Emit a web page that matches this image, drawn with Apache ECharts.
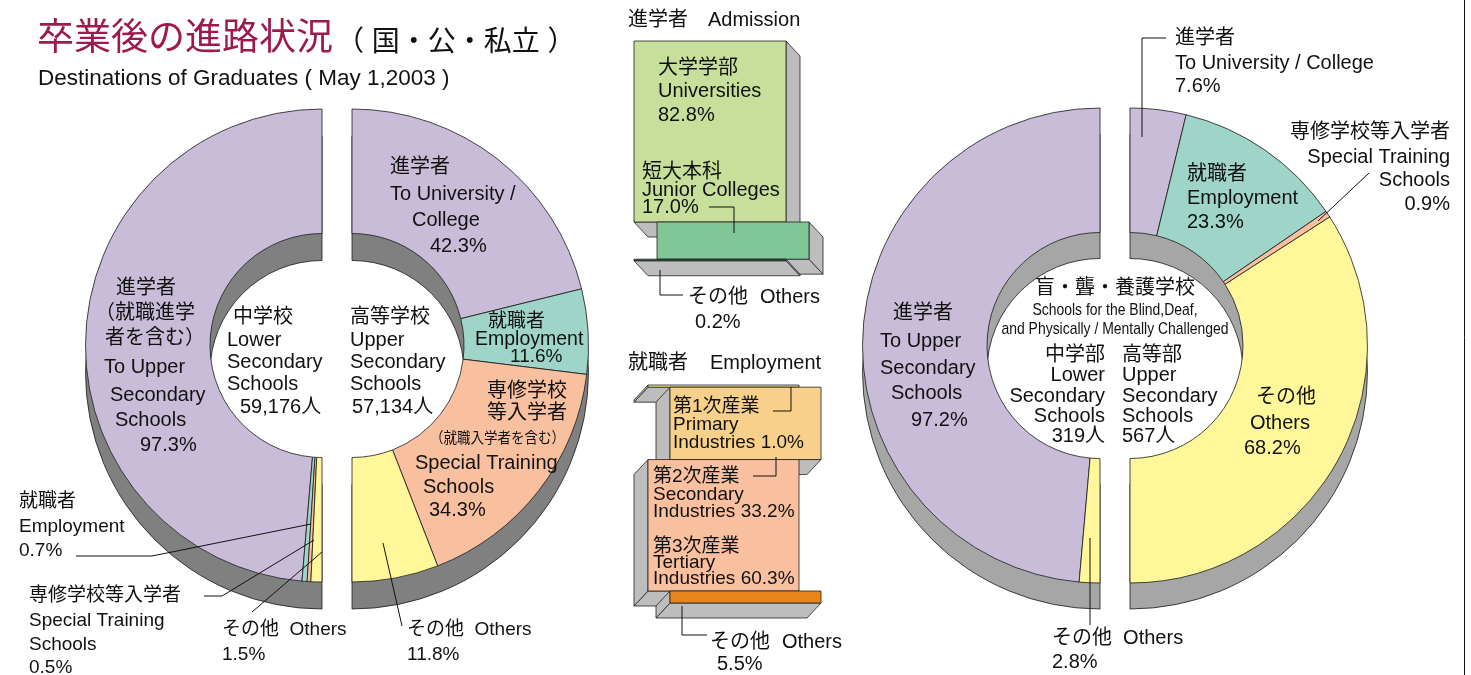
<!DOCTYPE html>
<html>
<head>
<meta charset="utf-8">
<script src="https://cdn.jsdelivr.net/npm/echarts@6/dist/echarts.min.js"></script>
<style>
html,body{margin:0;padding:0;background:#fff;}
#chart{width:1471px;height:675px;}
</style>
</head>
<body>
<div id="chart"></div>
<script>
// ---------------- DATA ----------------
const destCategories = ['進学者', '就職者', '専修学校等入学者', 'その他'];
const lowerSecValues = [97.3, 0.7, 0.5, 1.5];          // 中学校
const upperSecValues = [42.3, 11.6, 34.3, 11.8];       // 高等学校
const specialLowerCategories = ['進学者', 'その他'];
const specialLowerValues = [97.2, 2.8];                // 盲・聾・養護学校 中学部
const specialUpperValues = [7.6, 23.3, 0.9, 68.2];     // 盲・聾・養護学校 高等部
const schoolTotals = ['59,176', '57,134', '319', '567'];
const admissionCategories = ['大学学部', '短大本科', 'その他'];
const admissionValues = [82.8, 17.0, 0.2];
const employmentCategories = ['第1次産業', '第2次産業', '第3次産業', 'その他'];
const employmentValues = [1.0, 33.2, 60.3, 5.5];

// ---------------- STYLE ----------------
const FONT = "'Liberation Sans','Noto Sans CJK JP',sans-serif";
const catColors = {'進学者':'#c9bcd9','就職者':'#9fd5c8','専修学校等入学者':'#f9c0a0','その他':'#fff799'};
const admissionColors = ['#c8df9b', '#80c697', '#1f5f33'];
const employmentColors = ['#f3ee86', '#f8d08a', '#f9c0a0', '#e8841c'];
const pct = v => v.toFixed(1) + '%';

function halfPie(values, cats, center, radius, clockwise, shadowColor) {
  const sum = values.reduce((a, b) => a + b, 0);
  const data = shadowColor
    ? [{name: 'shadow', value: sum, itemStyle: {color: shadowColor}}]
    : values.map((v, i) => ({name: cats[i], value: v, itemStyle: {color: catColors[cats[i]]}}));
  data.push({name: 'blank', value: sum, itemStyle: {color: 'rgba(0,0,0,0)', borderWidth: 0}});
  return {
    type: 'pie', center, radius, startAngle: 90, clockwise, silent: true, animation: false,
    label: {show: false}, labelLine: {show: false}, emphasis: {disabled: true},
    itemStyle: {borderColor: '#1a1a1a', borderWidth: 0.8}, data, z: shadowColor ? 2 : 3
  };
}

function boxSeries(idx, values, colors, cfg) {
  let cum = 0;
  const data = values.map((v, i) => { const s = cum; cum += v; return [s, cum, i]; });
  return {
    type: 'custom', coordinateSystem: 'cartesian2d', xAxisIndex: idx, yAxisIndex: idx,
    silent: true, animation: false, clip: false, encode: {y: [0, 1]}, data,
    renderItem: function (params, api) {
      const i = params.dataIndex;
      const a = api.coord([0, api.value(0)]);
      const b = api.coord([1, api.value(1)]);
      const off = (i % 2) * cfg.offset;
      const x0 = a[0] + off, x1 = b[0] + off, y0 = a[1];
      const y1 = Math.max(b[1], y0 + 1.6);
      const dx = cfg.dx, dy = cfg.dy;
      const face = {fill: '#bdbdbd', stroke: '#222', lineWidth: 0.8};
      const side = dx > 0
        ? [[x1, y0], [x1 + dx, y0 + dy], [x1 + dx, y1 + dy], [x1, y1]]
        : [[x0, y0], [x0 + dx, y0 + dy], [x0 + dx, y1 + dy], [x0, y1]];
      return {
        type: 'group', children: [
          {type: 'polygon', z2: i * 10, shape: {points: [[x0, y1], [x1, y1], [x1 + dx, y1 + dy], [x0 + dx, y1 + dy]]}, style: face},
          {type: 'polygon', z2: i * 10 + 1, shape: {points: side}, style: face},
          {type: 'rect', z2: i * 10 + 2, shape: {x: x0, y: y0, width: x1 - x0, height: y1 - y0},
            style: {fill: colors[i], stroke: '#222', lineWidth: 0.8}}
        ]
      };
    }
  };
}

// ---------------- TEXT HELPERS ----------------
function T(text, x, y, size, align, extra, color) {
  return Object.assign({
    type: 'text', x, y, silent: true, z: 100,
    style: {text, fill: color || '#111', font: size + 'px ' + FONT,
      align: align || 'left', textAlign: align || 'left', verticalAlign: 'middle', textVerticalAlign: 'middle'}
  }, extra || {});
}
function L(points) {
  return {type: 'polyline', silent: true, z: 99, shape: {points}, style: {stroke: '#111', lineWidth: 1, fill: null}};
}

const lv = lowerSecValues, uv = upperSecValues, sl = specialLowerValues, su = specialUpperValues;
const av = admissionValues, ev = employmentValues;

const texts = [
  // title
  T('卒業後の進路状況', 37, 40, 37, 'left', null, '#9c1a4c'),
  T('（ 国・公・私立 ）', 336, 43, 28),
  T('Destinations of Graduates ( May 1,2003 )', 38, 79, 22.5),

  // left donut — 高等学校 side
  T(destCategories[0], 390, 167, 20),
  T('To University /', 390, 194, 20),
  T('College', 412, 220, 20),
  T(pct(uv[0]), 430, 246, 20),
  T(destCategories[1], 488, 322, 19),
  T('Employment', 475, 340, 19.5),
  T(pct(uv[1]), 510, 357, 19),
  T('専修学校', 487, 391, 20),
  T('等入学者', 487, 413, 20),
  T('（就職入学者を含む）', 430, 439, 15, 'left', {scaleX: 0.9}),
  T('Special Training', 415, 463, 20),
  T('Schools', 423, 487, 20),
  T(pct(uv[2]), 429, 510, 20),
  // left donut — 中学校 side
  T(destCategories[0], 116, 288, 20),
  T('（就職進学', 95, 313, 20),
  T('者を含む）', 105, 338, 20),
  T('To Upper', 104, 367, 20),
  T('Secondary', 110, 395, 20),
  T('Schools', 115, 420, 20),
  T(pct(lv[0]), 140, 445, 20),
  // centre
  T('中学校', 233, 317, 20),
  T('Lower', 227, 340, 20),
  T('Secondary', 227, 362, 20),
  T('Schools', 227, 384, 20),
  T(schoolTotals[0] + '人', 240, 407, 20),
  T('高等学校', 350, 317, 20),
  T('Upper', 350, 340, 20),
  T('Secondary', 350, 362, 20),
  T('Schools', 350, 384, 20),
  T(schoolTotals[1] + '人', 352, 407, 20),
  // left donut outside labels
  T(destCategories[1], 19, 502, 19),
  T('Employment', 19, 527, 19),
  T(pct(lv[1]), 19, 551, 19),
  L([[76, 556], [152, 556], [311, 524]]),
  T(destCategories[2], 29, 596, 19),
  T('Special Training', 29, 621, 19),
  T('Schools', 29, 645, 19),
  T(pct(lv[2]), 29, 668, 19),
  L([[204, 596], [222, 596], [314, 540]]),
  T('その他  Others', 222, 630, 19),
  T(pct(lv[3]), 222, 655, 19),
  L([[252, 612], [322, 552]]),
  T('その他  Others', 407, 630, 19),
  T(pct(uv[3]), 407, 655, 19),
  L([[402, 626], [383, 543]]),

  // middle — admission
  T('進学者', 628, 20, 20),
  T('Admission', 708, 20, 20),
  T(admissionCategories[0], 658, 68, 20),
  T('Universities', 658, 91, 20),
  T(pct(av[0]), 658, 115, 20),
  T(admissionCategories[1], 642, 172, 20),
  T('Junior Colleges', 642, 190, 20),
  T(pct(av[1]), 642, 207, 20),
  L([[709, 207], [734, 207], [734, 233]]),
  T('その他', 688, 297, 20),
  T('Others', 760, 297, 20),
  T(pct(av[2]), 695, 322, 20),
  L([[660, 270], [660, 295], [683, 295]]),

  // middle — employment
  T('就職者', 628, 363, 20),
  T('Employment', 710, 363, 20),
  T(employmentCategories[0], 673, 407, 19),
  T('Primary', 673, 425, 19),
  T('Industries ' + pct(ev[0]), 673, 443, 19),
  L([[773, 411], [791, 411], [791, 387]]),
  T(employmentCategories[1], 653, 477, 19),
  T('Secondary', 653, 495, 19),
  T('Industries ' + pct(ev[1]), 653, 512, 19),
  L([[753, 476], [776, 476], [776, 457]]),
  T(employmentCategories[2], 653, 547, 19),
  T('Tertiary', 653, 563, 19),
  T('Industries ' + pct(ev[2]), 653, 579, 19),
  T('その他', 710, 642, 20),
  T('Others', 782, 642, 20),
  T(pct(ev[3]), 717, 664, 20),
  L([[682, 606], [682, 635], [707, 635]]),

  // right donut
  T(destCategories[0], 1175, 38, 20),
  T('To University / College', 1175, 63, 20),
  T(pct(su[0]), 1175, 86, 20),
  L([[1166, 38], [1142, 38], [1142, 137]]),
  T(destCategories[1], 1187, 174, 20),
  T('Employment', 1187, 198, 20),
  T(pct(su[1]), 1187, 222, 20),
  T(destCategories[2], 1450, 132, 20, 'right'),
  T('Special Training', 1450, 157, 20, 'right'),
  T('Schools', 1450, 180, 20, 'right'),
  T(pct(su[2]), 1450, 204, 20, 'right'),
  L([[1369, 173], [1318, 221]]),
  T('その他', 1256, 397, 20),
  T('Others', 1250, 423, 20),
  T(pct(su[3]), 1244, 448, 20),
  T(specialLowerCategories[0], 893, 313, 20),
  T('To Upper', 880, 341, 20),
  T('Secondary', 880, 368, 20),
  T('Schools', 891, 393, 20),
  T(pct(sl[0]), 911, 420, 20),
  T('盲・聾・養護学校', 1115, 288, 20, 'center'),
  T('Schools for the Blind,Deaf,', 1115, 310, 17, 'center', {scaleX: 0.82}),
  T('and Physically / Mentally Challenged', 1115, 329, 17, 'center', {scaleX: 0.82}),
  T('中学部', 1105, 355, 20, 'right'),
  T('Lower', 1105, 375, 20, 'right'),
  T('Secondary', 1105, 396, 20, 'right'),
  T('Schools', 1105, 416, 20, 'right'),
  T(schoolTotals[2] + '人', 1105, 436, 20, 'right'),
  T('高等部', 1122, 355, 20),
  T('Upper', 1122, 375, 20),
  T('Secondary', 1122, 396, 20),
  T('Schools', 1122, 416, 20),
  T(schoolTotals[3] + '人', 1122, 436, 20),
  T(specialLowerCategories[1] + '  Others', 1052, 638, 20),
  T(pct(sl[1]), 1052, 662, 20),
  L([[1090, 538], [1090, 625]]),

  // right frame line
  {type: 'line', silent: true, shape: {x1: 1464.5, y1: 0, x2: 1464.5, y2: 675}, style: {stroke: '#111', lineWidth: 1}}
];

const chart = echarts.init(document.getElementById('chart'), null, {renderer: 'canvas'});
chart.setOption({
  animation: false,
  backgroundColor: '#fff',
  grid: [
    {left: 634, top: 41, width: 152, height: 218.6},
    {left: 648, top: 385, width: 151, height: 218}
  ],
  xAxis: [
    {type: 'value', gridIndex: 0, min: 0, max: 1, show: false},
    {type: 'value', gridIndex: 1, min: 0, max: 1, show: false}
  ],
  yAxis: [
    {type: 'value', gridIndex: 0, min: 0, max: 100, inverse: true, show: false},
    {type: 'value', gridIndex: 1, min: 0, max: 100, inverse: true, show: false}
  ],
  series: [
    // left donut (中学校 / 高等学校)
    halfPie(lowerSecValues, destCategories, [322, 372.5], [112, 236.5], false, '#808080'),
    halfPie(upperSecValues, destCategories, [352, 372.5], [112, 236.5], true, '#808080'),
    halfPie(lowerSecValues, destCategories, [322, 345.5], [112, 236.5], false),
    halfPie(upperSecValues, destCategories, [352, 345.5], [112, 236.5], true),
    // right donut (盲・聾・養護学校)
    halfPie(specialLowerValues, specialLowerCategories, [1100, 371.5], [113, 237.5], false, '#a6a6a6'),
    halfPie(specialUpperValues, destCategories, [1130, 371.5], [113, 237.5], true, '#a6a6a6'),
    halfPie(specialLowerValues, specialLowerCategories, [1100, 345.5], [113, 237.5], false),
    halfPie(specialUpperValues, destCategories, [1130, 345.5], [113, 237.5], true),
    // middle 3D bars
    boxSeries(0, admissionValues, admissionColors, {offset: 23, dx: 14, dy: 15}),
    boxSeries(1, employmentValues, employmentColors, {offset: 22, dx: -14, dy: 15})
  ],
  graphic: {elements: texts}
});
</script>
</body>
</html>
